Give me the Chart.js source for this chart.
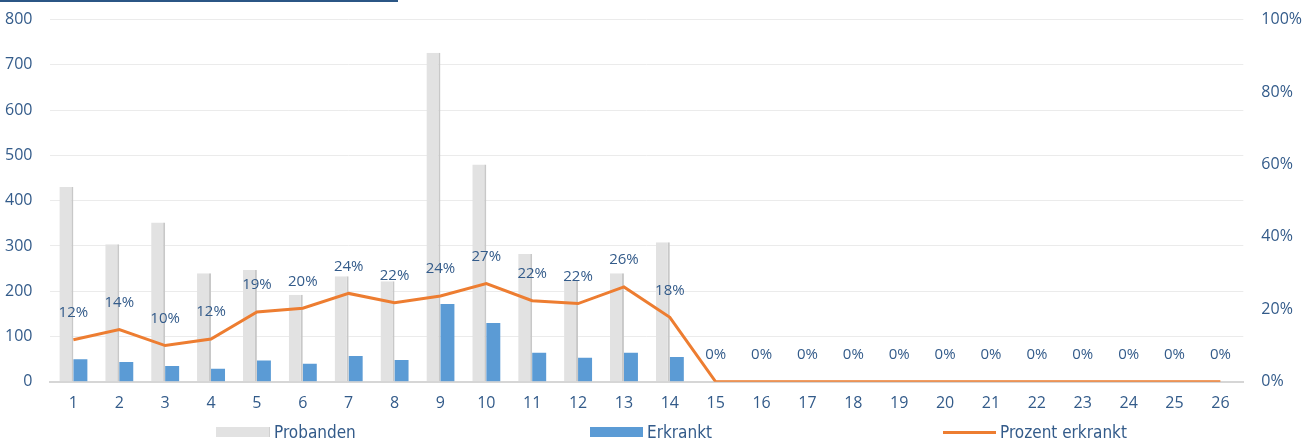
<!DOCTYPE html>
<html>
<head>
<meta charset="utf-8">
<script src="https://cdn.jsdelivr.net/npm/chart.js@4"></script>
<style>
  body { margin: 0; background: #fff; overflow: hidden; }
  #wrap { position: relative; width: 1314px; height: 444px; overflow: hidden; }
  #chart { position: absolute; left: 0; top: -8px; }
  #topline { position: absolute; left: 0; top: 0; width: 398px; height: 2px; background: #2b5685; z-index: 2; }
  .leg { position: absolute; top: 421px; height: 22px; display: flex; align-items: center;
         font-family: 'Liberation Sans Narrow', 'DejaVu Sans Condensed', sans-serif; font-size: 17px; color: #335b8a; }
  .leg i { display: inline-block; width: 53px; margin-right: 4px; }
</style>
</head>
<body>
<div id="wrap">
  <canvas id="chart" width="1314" height="452"></canvas>
  <div id="topline"></div>
  <div id="legend"></div>
</div>
<script>
// data
const labels = ['1','2','3','4','5','6','7','8','9','10','11','12','13','14','15','16','17','18','19','20','21','22','23','24','25','26'];
const probanden = [430, 304, 352, 240, 247, 192, 233, 222, 727, 480, 282, 225, 240, 308, 0, 0, 0, 0, 0, 0, 0, 0, 0, 0, 0, 0];
const erkrankt = [50, 44, 35, 29, 47, 40, 57, 48, 172, 130, 64, 53, 64, 55, 0, 0, 0, 0, 0, 0, 0, 0, 0, 0, 0, 0];
const prozent = [11.6, 14.4, 10.0, 11.8, 19.3, 20.3, 24.4, 21.8, 23.7, 27.1, 22.4, 21.6, 26.2, 17.8, 0, 0, 0, 0, 0, 0, 0, 0, 0, 0, 0, 0];

const textColor = '#335b8a';
const tickFont = { family: "'Open Sans', sans-serif", size: 16 };

// percent labels above the line points
const pctLabels = {
    id: 'pctLabels',
    afterDatasetsDraw(chart) {
        const meta = chart.getDatasetMeta(2);
        const ctx = chart.ctx;
        ctx.save();
        ctx.font = "15px 'Open Sans', sans-serif";
        ctx.fillStyle = textColor;
        ctx.textAlign = 'center';
        ctx.textBaseline = 'middle';
        meta.data.forEach(function(pt, i){
            ctx.fillText(Math.round(prozent[i]) + '%', pt.x, pt.y - 27);
        });
        ctx.restore();
    }
};

const data = {
    labels: labels,
    datasets: [{
        label: 'Probanden',
        data: probanden,
        backgroundColor: '#e2e2e2',
        borderColor: '#c8c8c8',
        borderWidth: { right: 2 },
        borderSkipped: false,
        yAxisID: 'y'
    }, {
        label: 'Erkrankt',
        data: erkrankt,
        backgroundColor: '#5b9bd5',
        borderWidth: 0,
        yAxisID: 'y'
    }, {
        type: 'line',
        label: 'Prozent erkrankt',
        data: prozent,
        borderColor: '#ed7d31',
        backgroundColor: '#ed7d31',
        borderWidth: 3,
        pointRadius: 0,
        tension: 0,
        yAxisID: 'y1',
        order: -1
    }]
};

const options = {
    responsive: false,
    animation: false,
    layout: { padding: { top: 0, left: -13, right: -6, bottom: 27 } },
    datasets: {
        bar: { categoryPercentage: 0.61, barPercentage: 1 }
    },
    plugins: {
        tooltip: { enabled: false },
        legend: { display: false }
    },
    scales: {
        x: {
            grid: { display: false },
            border: { color: '#d6d6d6', width: 2 },
            ticks: { color: textColor, font: tickFont, padding: 4 }
        },
        y: {
            position: 'left',
            min: 0,
            max: 800,
            ticks: { stepSize: 100, autoSkip: false, color: textColor, font: tickFont, padding: 18 },
            grid: { color: '#ebebeb', drawTicks: false },
            border: { display: false }
        },
        y1: {
            position: 'right',
            min: 0,
            max: 100,
            ticks: {
                stepSize: 20,
                color: textColor,
                font: tickFont,
                padding: 18,
                callback: function(v){ return v + '%'; }
            },
            grid: { drawOnChartArea: false, drawTicks: false },
            border: { display: false }
        }
    }
};

let chartElement = document.getElementById('chart').getContext('2d');
let mainChart = new Chart(chartElement, {
    type: 'bar',
    data: data,
    options: options,
    plugins: [pctLabels]
});

// legend as html, spread out like the reference
const legendItems = [
    { text: 'Probanden', left: 216, swatch: 'height:10px;background:#e2e2e2;border-right:1px solid #d0d0d0;' },
    { text: 'Erkrankt', left: 590, swatch: 'height:10px;background:#5b9bd5;' },
    { text: 'Prozent erkrankt', left: 943, swatch: 'height:3px;background:#ed7d31;' }
];
const legendElement = document.getElementById('legend');
legendItems.forEach(function(it){
    const d = document.createElement('div');
    d.className = 'leg';
    d.style.left = it.left + 'px';
    d.innerHTML = '<i style="' + it.swatch + '"></i>' + it.text;
    legendElement.appendChild(d);
});
</script>
</body>
</html>
